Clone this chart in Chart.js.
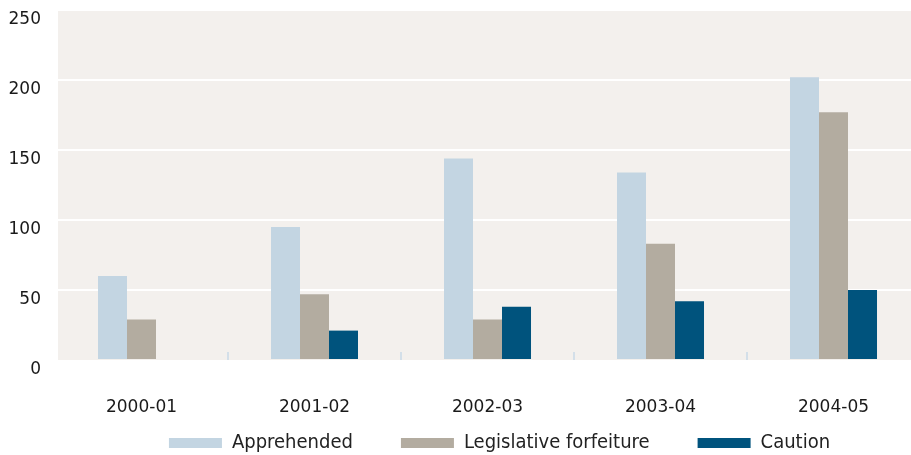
<!DOCTYPE html>
<html>
<head>
<meta charset="utf-8">
<script src="https://cdn.jsdelivr.net/npm/chart.js@4.4.1/dist/chart.umd.min.js"></script>
<style>
  html, body { margin: 0; padding: 0; background: #fff; overflow: hidden; }
  #wrap { width: 920px; height: 455px; }
</style>
</head>
<body>
<div id="wrap"><canvas id="graph"></canvas></div>
<script>
const years = ["2000-01", "2001-02", "2002-03", "2003-04", "2004-05"];
const apprehended = [60, 95, 144, 134, 202];
const forfeiture = [29, 47, 29, 83, 177];
const caution = [0, 21, 38, 42, 50];
const yTicks = [0, 50, 100, 150, 200, 250];

// plot background
const plotBackground = {
  id: "plotBackground",
  beforeDraw(chart) {
    const { ctx, chartArea } = chart;
    ctx.save();
    ctx.fillStyle = "#f3f0ed";
    ctx.fillRect(chartArea.left + 3, chartArea.top, chartArea.right - chartArea.left - 3, chartArea.bottom - chartArea.top);
    ctx.restore();

    // legend sits close under the labels
    const lg = chart.legend;
    lg.top = lg.bottom - lg.options.labels.padding - 22;
    lg.left += 12;
    lg.right += 12;
  },
};

// small marks between the year groups
const groupMarks = {
  id: "groupMarks",
  afterDatasetsDraw(chart) {
    const { ctx, chartArea } = chart;
    const x = chart.scales.x;
    ctx.save();
    ctx.strokeStyle = "#d3dfe9";
    ctx.lineWidth = 2;
    for (let i = 1; i < years.length; i++) {
      const px = (x.getPixelForValue(i - 1) + x.getPixelForValue(i)) / 2;
      ctx.beginPath();
      ctx.moveTo(px, chartArea.bottom - 8);
      ctx.lineTo(px, chartArea.bottom);
      ctx.stroke();
    }
    ctx.restore();
  },
};

const ctx = document.getElementById("graph").getContext("2d");

const chart = new Chart(ctx, {
  type: "bar",

  data: {
    labels: years,
    datasets: [
      {
        label: "Apprehended",
        backgroundColor: "#c3d5e2",
        data: apprehended,
      },
      {
        label: "Legislative forfeiture",
        backgroundColor: "#b3aca0",
        data: forfeiture,
      },
      {
        label: "Caution",
        backgroundColor: "#00537d",
        data: caution,
      },
    ],
  },

  options: {
    responsive: true,
    maintainAspectRatio: false,
    animation: false,
    layout: { padding: 0 },
    datasets: {
      bar: { categoryPercentage: 0.503, barPercentage: 1.0 },
    },
    scales: {
      x: {
        grid: { display: false, drawTicks: false },
        border: { display: false },
        ticks: {
          color: "#1a1a1a",
          font: { family: "DejaVu Sans", size: 17 },
          padding: 37,
          maxRotation: 0,
          autoSkip: false,
        },
        afterFit(scale) {
          scale.height = 57;
        },
      },
      y: {
        min: 0,
        max: 250,
        grid: {
          color: (c) => (c.tick && c.tick.value === 0 ? "rgba(0,0,0,0)" : "#ffffff"),
          lineWidth: 2,
          drawTicks: false,
        },
        border: { display: false },
        afterBuildTicks(scale) {
          scale.ticks = yTicks.map((v) => ({ value: v }));
        },
        ticks: {
          color: "#1a1a1a",
          font: { family: "DejaVu Sans", size: 17 },
          padding: 14,
          labelOffset: 10,
        },
        afterFit(scale) {
          scale.width = 55;
          scale.paddingTop = 10;
          scale.paddingBottom = 0;
        },
      },
    },
    plugins: {
      legend: {
        position: "bottom",
        fullSize: false,
        align: "center",
        maxHeight: 38,
        labels: {
          boxWidth: 53,
          boxHeight: 10,
          padding: 48,
          color: "#222222",
          font: { family: "DejaVu Sans Condensed", size: 20 },
        },
      },
      tooltip: { enabled: false },
    },
  },
  plugins: [plotBackground, groupMarks],
});
</script>
</body>
</html>
